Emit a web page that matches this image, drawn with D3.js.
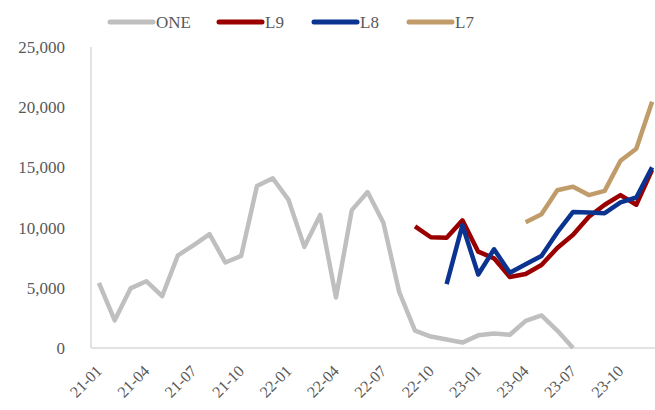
<!DOCTYPE html>
<html>
<head>
<meta charset="utf-8">
<script src="https://cdn.jsdelivr.net/npm/d3@7"></script>
<style>
  body { margin: 0; background: #fff; }
  svg text { font-family: "Liberation Serif", "Times New Roman", serif; fill: #595959; }
</style>
</head>
<body>
<svg width="655" height="410"></svg>
<script>
var months = []
;['21', '22', '23'].forEach(function(y) {
    for (var m = 1; m <= 12; m++) months.push(y + '-' + (m < 10 ? '0' + m : m))
})
var tickLabels = ['21-01', '21-04', '21-07', '21-10', '22-01', '22-04', '22-07', '22-10', '23-01', '23-04', '23-07', '23-10']
var yTicks = [0, 5000, 10000, 15000, 20000, 25000]

// monthly values, null = no data
var one = [5400, 2300, 4950, 5550, 4300, 7700, 8550, 9450, 7100, 7650, 13450, 14100,
           12300, 8400, 11050, 4200, 11450, 12950, 10400, 4650, 1450, 950, 700, 450,
           1050, 1200, 1100, 2250, 2700, 1450, 0, null, null, null, null, null]
var l9 = [null, null, null, null, null, null, null, null, null, null, null, null,
          null, null, null, null, null, null, null, null, 10100, 9200, 9150, 10600,
          8000, 7450, 5900, 6150, 6900, 8300, 9400, 10900, 11900, 12700, 11900, 14800]
var l8 = [null, null, null, null, null, null, null, null, null, null, null, null,
          null, null, null, null, null, null, null, null, null, null, 5300, 10200,
          6100, 8200, 6250, 6950, 7650, 9600, 11300, 11250, 11200, 12100, 12500, 15000]
var l7 = [null, null, null, null, null, null, null, null, null, null, null, null,
          null, null, null, null, null, null, null, null, null, null, null, null,
          null, null, null, 10450, 11100, 13100, 13400, 12700, 13050, 15550, 16550, 20450]

var series = [
    {name: 'ONE', values: one, color: '#bfbfbf'},
    {name: 'L9', values: l9, color: '#9a0000'},
    {name: 'L8', values: l8, color: '#0b3490'},
    {name: 'L7', values: l7, color: '#c19c6b'}
]

var svg = d3.select('svg')

var x = d3.scalePoint()
    .domain(months)
    .range([91, 660])
    .padding(0.5)

var y = d3.scaleLinear()
    .domain([0, 25000])
    .range([348, 47])

// y axis labels
svg.append('g')
    .selectAll('text')
    .data(yTicks)
    .enter()
    .append('text')
    .attr('x', 65)
    .attr('y', function(d) { return y(d) + 6 })
    .attr('text-anchor', 'end')
    .style('font-size', '17px')
    .text(function(d) { return d3.format(',')(d) })

// axis lines
svg.append('line')
    .attr('x1', 91).attr('y1', y(25000))
    .attr('x2', 91).attr('y2', y(0))
    .style('stroke', '#d9d9d9')
    .style('stroke-width', 1.5)
svg.append('line')
    .attr('x1', 91).attr('y1', y(0))
    .attr('x2', 660).attr('y2', y(0))
    .style('stroke', '#d9d9d9')
    .style('stroke-width', 1.5)

// x labels, rotated
svg.append('g')
    .selectAll('text')
    .data(tickLabels)
    .enter()
    .append('text')
    .attr('transform', function(d) {
        return 'translate(' + (x(d) + 4) + ',' + 372 + ') rotate(-45)'
    })
    .attr('text-anchor', 'end')
    .style('font-size', '16px')
    .text(function(d) { return d })

var line = d3.line()
    .defined(function(d) { return d != null })
    .x(function(d, i) { return x(months[i]) })
    .y(function(d) { return y(d) })

svg.append('g')
    .selectAll('path')
    .data(series)
    .enter()
    .append('path')
    .attr('d', function(d) { return line(d.values) })
    .style('fill', 'none')
    .style('stroke', function(d) { return d.color })
    .style('stroke-width', 4.5)
    .style('stroke-linejoin', 'round')

// legend
var legendX = [110, 219, 314, 409]
var legend = svg.append('g')
    .selectAll('g')
    .data(series)
    .enter()
    .append('g')
    .attr('transform', function(d, i) { return 'translate(' + legendX[i] + ',22)' })
legend.append('line')
    .attr('x1', 0).attr('x2', 43)
    .attr('y1', 0).attr('y2', 0)
    .style('stroke', function(d) { return d.color })
    .style('stroke-width', 5)
    .style('stroke-linecap', 'round')
legend.append('text')
    .attr('x', 46)
    .attr('y', 6)
    .style('font-size', '17px')
    .text(function(d) { return d.name })
</script>
</body>
</html>
